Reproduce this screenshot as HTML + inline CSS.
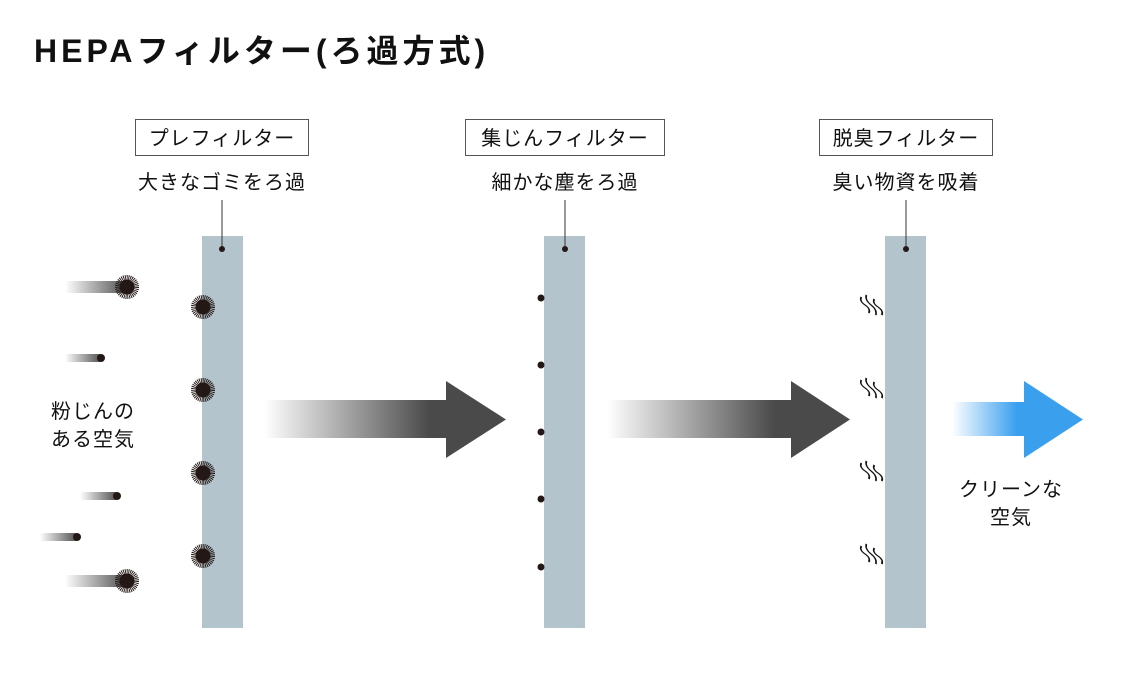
<!DOCTYPE html>
<html><head><meta charset="utf-8"><style>
html,body{margin:0;padding:0;background:#fff;}
svg{display:block}
text{font-family:"Liberation Sans","Noto Sans CJK JP",sans-serif;fill:#111}
</style></head><body>
<svg width="1135" height="677" viewBox="0 0 1135 677" xmlns="http://www.w3.org/2000/svg">
<defs>
<linearGradient id="ga" x1="0" x2="1"><stop offset="0" stop-color="#4a4a4a" stop-opacity="0"/><stop offset="0.9" stop-color="#4a4a4a"/><stop offset="1" stop-color="#4a4a4a"/></linearGradient>
<linearGradient id="gb" x1="0" x2="1"><stop offset="0" stop-color="#3aa0ee" stop-opacity="0"/><stop offset="0.85" stop-color="#3aa0ee"/><stop offset="1" stop-color="#3aa0ee"/></linearGradient>
<linearGradient id="gt" x1="0" x2="1"><stop offset="0" stop-color="#555" stop-opacity="0"/><stop offset="1" stop-color="#555"/></linearGradient>
<g id="spk"><circle r="7.5" fill="#231816"/><circle r="9.5" fill="none" stroke="#231816" stroke-width="5" stroke-dasharray="0.9 0.8"/></g>
<path id="odor" d="M-6,-10 q-4,4 0,8 q4,4 0,8 M0,-12 q-4,5 0,10 q4,5 0,10 M6,-8 q-4,4 0,8 q4,4 0,8" fill="none" stroke="#111" stroke-width="1.5" transform="skewX(25)"/>
</defs>
<text x="34" y="62" font-size="32" font-weight="bold" letter-spacing="4" fill="#111">HEPAフィルター(ろ過方式)</text>

<!-- labels -->
<rect x="135.5" y="119.5" width="173" height="36" fill="#fff" stroke="#555"/>
<text x="222" y="145" font-size="20" letter-spacing="1" text-anchor="middle">プレフィルター</text>
<text x="222" y="189" font-size="20" letter-spacing="1" text-anchor="middle">大きなゴミをろ過</text>
<rect x="465.5" y="119.5" width="199" height="36" fill="#fff" stroke="#555"/>
<text x="565" y="145" font-size="20" letter-spacing="1" text-anchor="middle">集じんフィルター</text>
<text x="565" y="189" font-size="20" letter-spacing="1" text-anchor="middle">細かな塵をろ過</text>
<rect x="819.5" y="119.5" width="173" height="36" fill="#fff" stroke="#555"/>
<text x="906" y="145" font-size="20" letter-spacing="1" text-anchor="middle">脱臭フィルター</text>
<text x="906" y="189" font-size="20" letter-spacing="1" text-anchor="middle">臭い物資を吸着</text>

<!-- filters -->
<rect x="202" y="236" width="41" height="392" fill="#b4c4cc"/>
<rect x="544" y="236" width="41" height="392" fill="#b4c4cc"/>
<rect x="885" y="236" width="41" height="392" fill="#b4c4cc"/>
<g stroke="#333" stroke-width="1"><line x1="222" y1="200" x2="222" y2="249"/><line x1="565" y1="200" x2="565" y2="249"/><line x1="906" y1="200" x2="906" y2="249"/></g>
<g fill="#231816"><circle cx="222" cy="249" r="3"/><circle cx="565" cy="249" r="3"/><circle cx="906" cy="249" r="3"/></g>

<!-- particles -->
<rect x="65" y="281" width="60" height="12" fill="url(#gt)"/>
<rect x="65" y="575" width="60" height="12" fill="url(#gt)"/>
<rect x="65" y="354" width="35" height="8" fill="url(#gt)"/>
<rect x="80" y="492" width="36" height="8" fill="url(#gt)"/>
<rect x="40" y="533" width="36" height="8" fill="url(#gt)"/>
<use href="#spk" x="127" y="287"/><use href="#spk" x="127" y="581"/>
<use href="#spk" x="203" y="307"/><use href="#spk" x="203" y="390"/><use href="#spk" x="203" y="473"/><use href="#spk" x="203" y="556"/>
<g fill="#231816"><circle cx="101" cy="358" r="4"/><circle cx="117" cy="496" r="4"/><circle cx="77" cy="537" r="4"/>
<circle cx="541" cy="298" r="3.5"/><circle cx="541" cy="365" r="3.5"/><circle cx="541" cy="432" r="3.5"/><circle cx="541" cy="499" r="3.5"/><circle cx="541" cy="567" r="3.5"/></g>
<use href="#odor" x="872" y="307"/><use href="#odor" x="872" y="390"/><use href="#odor" x="872" y="473"/><use href="#odor" x="872" y="556"/>

<text x="93" y="418" font-size="20" letter-spacing="1" text-anchor="middle">粉じんの</text>
<text x="93" y="446" font-size="20" letter-spacing="1" text-anchor="middle">ある空気</text>

<!-- arrows -->
<rect x="264" y="400" width="184" height="38" fill="url(#ga)"/>
<polygon points="446,381 506,419.5 446,458" fill="#4a4a4a"/>
<rect x="607" y="400" width="186" height="38" fill="url(#ga)"/>
<polygon points="791,381 850,419.5 791,458" fill="#4a4a4a"/>
<rect x="952" y="402" width="76" height="34" fill="url(#gb)"/>
<polygon points="1024,381 1083,419.5 1024,458" fill="#3aa0ee"/>

<text x="1011" y="496" font-size="20" letter-spacing="1" text-anchor="middle">クリーンな</text>
<text x="1011" y="524" font-size="20" letter-spacing="1" text-anchor="middle">空気</text>
</svg>
</body></html>
